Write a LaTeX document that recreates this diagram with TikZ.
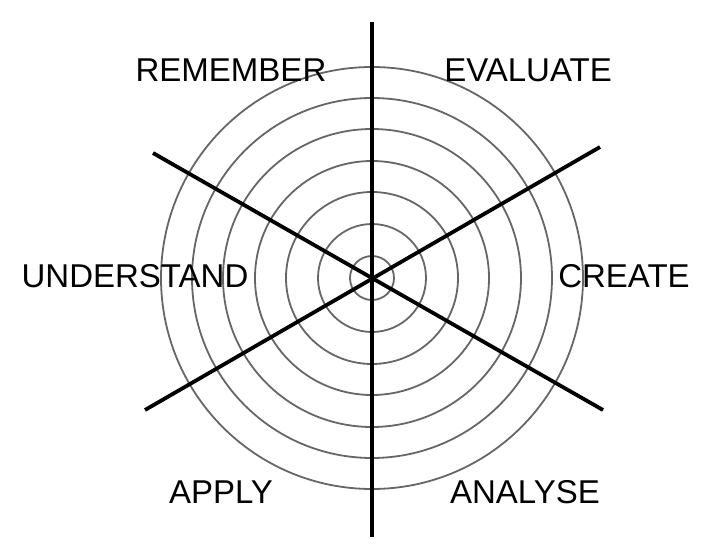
\documentclass[tikz,border=0pt]{standalone}
\usepackage{fontspec}
\setmainfont{Liberation Sans}

\begin{document}
\begin{tikzpicture}[x=1pt, y=-1pt, every node/.style={font=\fontsize{33}{33}\selectfont, inner sep=0pt}, ring/.style={black!60, line width=1.8pt}, spoke/.style={line width=3.8pt}]
	\useasboundingbox (0,0) rectangle (713,551);
	\coordinate (ctr) at (372,278);
	\foreach \r in {22,54,86,117,149,180,211}
		\draw[ring] (ctr) circle[radius=\r pt];
	\coordinate (top) at (372,22);
	\coordinate (bot) at (372,537);
	\coordinate (ul) at (153,153);
	\coordinate (lr) at (603,410);
	\coordinate (ll) at (145,410);
	\coordinate (ur) at (600,147);
	\draw[spoke] (top) -- (bot);
	\draw[spoke] (ul) -- (lr);
	\draw[spoke] (ll) -- (ur);
	\node (remember) at (231,70.5) {REMEMBER};
	\node (evaluate) at (528,70) {EVALUATE};
	\node (understand) at (135,276) {UNDERSTAND};
	\node (create) at (624,276) {CREATE};
	\node (apply) at (221,492) {APPLY};
	\node (analyse) at (525,492) {ANALYSE};
\end{tikzpicture}
\end{document}
